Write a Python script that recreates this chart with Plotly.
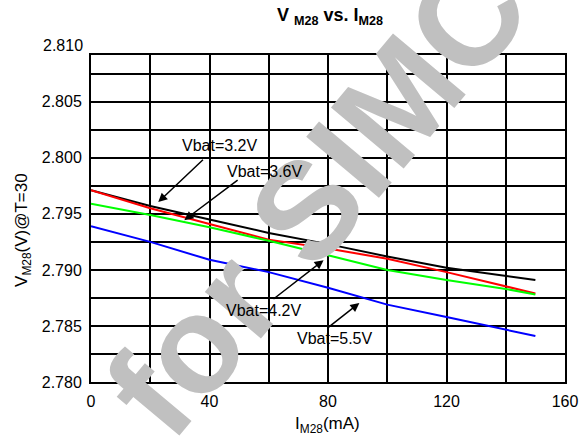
import plotly.graph_objects as go

# Data
current_ma = [0, 20, 40, 60, 80, 100, 120, 140, 150]
v_bat_32 = [2.7971, 2.7957, 2.7945, 2.7933, 2.7923, 2.7912, 2.7902, 2.7895, 2.7891]
v_bat_36 = [2.7971, 2.7955, 2.7941, 2.7927, 2.7919, 2.7910, 2.7898, 2.7885, 2.7879]
v_bat_42 = [2.7959, 2.7949, 2.7938, 2.7926, 2.7913, 2.7900, 2.7891, 2.7883, 2.7878]
v_bat_55 = [2.7939, 2.7925, 2.7909, 2.7898, 2.7884, 2.7869, 2.7858, 2.7847, 2.7841]

series_names = ["Vbat=3.2V", "Vbat=3.6V", "Vbat=4.2V", "Vbat=5.5V"]
series_colors = ["#000000", "#ff0000", "#00ff00", "#0000ff"]
series_values = [v_bat_32, v_bat_36, v_bat_42, v_bat_55]

x_ticks = [0, 40, 80, 120, 160]
x_minor = [20, 60, 100, 140]
y_ticks = [2.780, 2.785, 2.790, 2.795, 2.800, 2.805]
y_minor = [2.7825, 2.7875, 2.7925, 2.7975, 2.8025, 2.8075]
y_top_label = 2.810
y_max = 2.80917

# label text, label position (x, y), arrow head (x, y), arrow tail (x, y)
labels = [
    ("Vbat=3.2V", 43.6, 2.80113, 22.7, 2.79605, 38.3, 2.79995),
    ("Vbat=3.6V", 58.8, 2.79881, 31.5, 2.79444, 50.0, 2.79810),
    ("Vbat=4.2V", 58.5, 2.78639, 78.5, 2.79087, 61.1, 2.78730),
    ("Vbat=5.5V", 82.3, 2.78386, 90.6, 2.78705, 79.6, 2.78477),
]

FONT = "Liberation Sans, Arial, sans-serif"

fig = go.Figure()
for name, color, vals in zip(series_names, series_colors, series_values):
    fig.add_trace(go.Scatter(x=current_ma, y=vals, mode="lines", name=name,
                             line=dict(color=color, width=2), showlegend=False))

annotations = []
# watermark
annotations.append(dict(text="<b>for SIMCOM</b>", xref="paper", yref="paper",
                        x=0.627, y=0.826, showarrow=False, textangle=-50,
                        font=dict(family=FONT, size=138, color="#c0c0c0"),
                        xanchor="center", yanchor="middle"))
for text, tx, ty, hx, hy, ax, ay in labels:
    annotations.append(dict(x=hx, y=hy, ax=ax, ay=ay, xref="x", yref="y",
                            axref="x", ayref="y", text="", showarrow=True,
                            arrowhead=2, arrowsize=1.2, arrowwidth=1.5,
                            arrowcolor="black"))
    annotations.append(dict(x=tx, y=ty, xref="x", yref="y", text=text,
                            showarrow=False, xanchor="center", yanchor="middle",
                            font=dict(family=FONT, size=16, color="black")))
# top tick label sits above the clipped plot frame
annotations.append(dict(x=0, y=(y_top_label - 2.780) / (y_max - 2.780), xref="paper", yref="paper",
                        text="%.3f" % y_top_label, showarrow=False,
                        xanchor="right", yanchor="middle", xshift=-6,
                        font=dict(family=FONT, size=16, color="black")))
# title
annotations.append(dict(x=0.504, y=1.119, xref="paper", yref="paper",
                        text="<b>V <sub>M28</sub> vs. I<sub>M28</sub></b>",
                        showarrow=False, xanchor="center", yanchor="middle",
                        font=dict(family=FONT, size=18, color="black")))
# axis titles
annotations.append(dict(x=0.498, y=-0.1315, xref="paper", yref="paper",
                        text="I<sub>M28</sub>(mA)", showarrow=False,
                        xanchor="center", yanchor="middle",
                        font=dict(family=FONT, size=17, color="black")))
annotations.append(dict(x=-0.1435, y=0.465, xref="paper", yref="paper",
                        text="V<sub>M28</sub>(V)@T=30", showarrow=False, textangle=-90,
                        xanchor="center", yanchor="middle",
                        font=dict(family=FONT, size=17, color="black")))

fig.update_layout(
    width=584, height=442,
    margin=dict(l=91, r=19, t=55, b=60),
    paper_bgcolor="white", plot_bgcolor="white",
    font=dict(family=FONT, size=16, color="black"),
    annotations=annotations,
)
fig.update_xaxes(range=[0, 160], tickvals=x_ticks, ticktext=[str(v) for v in x_ticks],
                 showgrid=True, gridcolor="black", gridwidth=2,
                 minor=dict(tickvals=x_minor, showgrid=True, gridcolor="black", gridwidth=2, ticks=""),
                 showline=True, linecolor="black", linewidth=2, mirror=True,
                 zeroline=False, ticks="", ticklabelstandoff=4, automargin=False,
                 tickfont=dict(family=FONT, size=16, color="black"))
fig.update_yaxes(range=[2.780, y_max], tickvals=y_ticks,
                 ticktext=["%.3f" % v for v in y_ticks],
                 showgrid=True, gridcolor="black", gridwidth=2,
                 minor=dict(tickvals=y_minor, showgrid=True, gridcolor="black", gridwidth=2, ticks=""),
                 showline=True, linecolor="black", linewidth=2, mirror=True,
                 zeroline=False, ticks="", ticklabelstandoff=4, automargin=False,
                 tickfont=dict(family=FONT, size=16, color="black"))

fig.write_html("out.html", config={"displayModeBar": False},
               post_script="document.body.style.margin='0';document.body.style.padding='0';")
